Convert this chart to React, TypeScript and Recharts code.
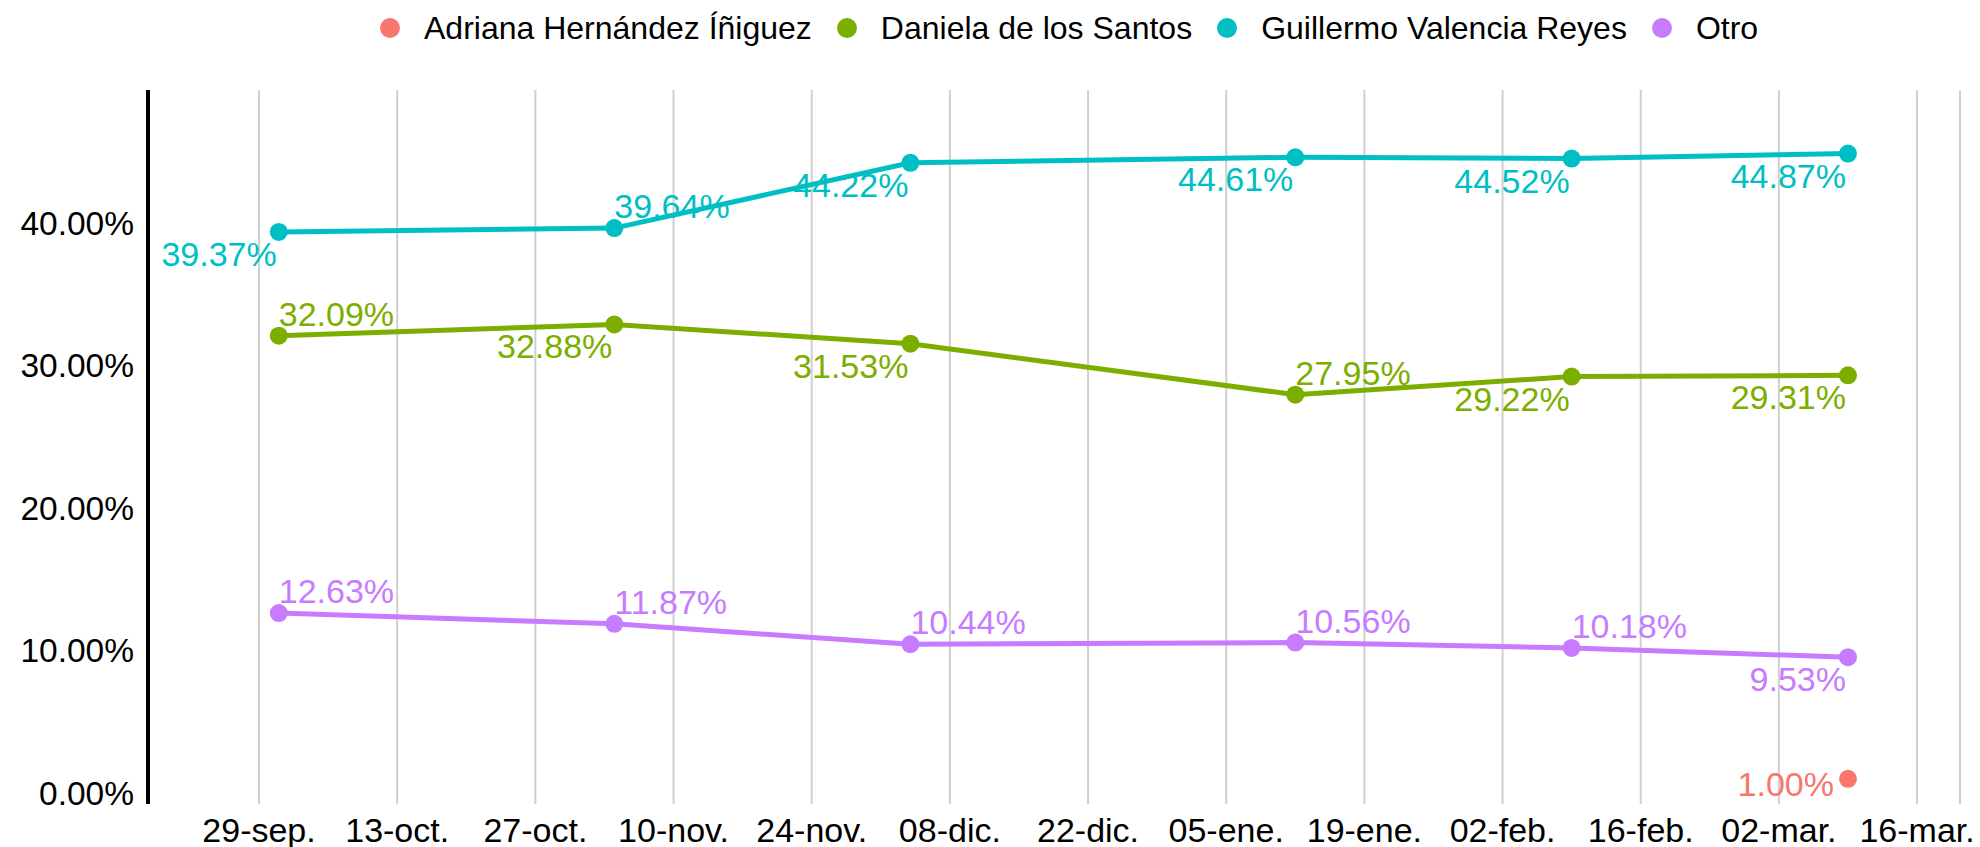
import React from "react"
import { LineChart, Line, XAxis, YAxis, CartesianGrid } from "recharts"

const DAY = 86400000

// survey dates and values (%)
const DATES = ["2024-10-01", "2024-11-04", "2024-12-04", "2025-01-12", "2025-02-09", "2025-03-09"]
const ADRIANA_DATES = ["2025-03-09"]
const ADRIANA = [1.0]
const DANIELA = [32.09, 32.88, 31.53, 27.95, 29.22, 29.31]
const GUILLERMO = [39.37, 39.64, 44.22, 44.61, 44.52, 44.87]
const OTRO = [12.63, 11.87, 10.44, 10.56, 10.18, 9.53]

// x tick dates, every 14 days
const TICK_DATES = [
  "2024-09-29", "2024-10-13", "2024-10-27", "2024-11-10", "2024-11-24", "2024-12-08", "2024-12-22",
  "2025-01-05", "2025-01-19", "2025-02-02", "2025-02-16", "2025-03-02", "2025-03-16",
]
const MONTHS = ["ene.", "feb.", "mar.", "abr.", "may.", "jun.", "jul.", "ago.", "sep.", "oct.", "nov.", "dic."]
const Y_TICKS = [0, 10, 20, 30, 40]

// where each point's label sits: "ar" above-right, "bl" below-left, "l" left
const ADRIANA_SIDES = ["l"]
const DANIELA_SIDES = ["ar", "bl", "bl", "ar", "bl", "bl"]
const GUILLERMO_SIDES = ["bl", "ar", "bl", "bl", "bl", "bl"]
const OTRO_SIDES = ["ar", "ar", "ar", "ar", "ar", "bl"]

const SERIES = [
  { name: "Adriana Hernández Íñiguez", color: "#F8766D", dates: ADRIANA_DATES, values: ADRIANA, sides: ADRIANA_SIDES },
  { name: "Daniela de los Santos", color: "#7CAE00", dates: DATES, values: DANIELA, sides: DANIELA_SIDES },
  { name: "Guillermo Valencia Reyes", color: "#00BFC4", dates: DATES, values: GUILLERMO, sides: GUILLERMO_SIDES },
  { name: "Otro", color: "#C77CFF", dates: DATES, values: OTRO, sides: OTRO_SIDES },
]

const toTime = (s: string) => {
  const [y, m, d] = s.split("-").map(Number)
  return Date.UTC(y, m - 1, d)
}

const fmtTick = (t: number) => {
  const d = new Date(t)
  return `${String(d.getUTCDate()).padStart(2, "0")}-${MONTHS[d.getUTCMonth()]}`
}

const t0 = toTime(TICK_DATES[0])
const X_DOMAIN = [t0 - 11.25 * DAY, t0 + 172.35 * DAY]
const FONT = "'Liberation Sans', Arial, Helvetica, sans-serif"

const makeLabel = (sides: string[], color: string) => (props: any) => {
  const { x, y, value, index } = props
  const side = sides[index] || "ar"
  let tx = x
  let ty = y - 10
  let anchor = "start"
  if (side === "bl") {
    tx = x - 2
    ty = y + 34
    anchor = "end"
  } else if (side === "l") {
    tx = x - 14
    ty = y + 17
    anchor = "end"
  }
  return (
    <text key={`lbl-${index}`} x={tx} y={ty} fill={color} fontSize={34} textAnchor={anchor} fontFamily={FONT}>
      {`${Number(value).toFixed(2)}%`}
    </text>
  )
}

function ChartLegend() {
  return (
    <div
      style={{
        position: "absolute",
        top: 0,
        left: 372,
        height: 40,
        display: "flex",
        alignItems: "center",
        fontSize: 32,
        color: "#000",
        whiteSpace: "nowrap",
      }}
    >
      {SERIES.map((s) => (
        <div key={s.name} style={{ display: "flex", alignItems: "center", marginRight: 25 }}>
          <span style={{ width: 20, height: 20, borderRadius: 10, background: s.color, marginRight: 24 }} />
          <span>{s.name}</span>
        </div>
      ))}
    </div>
  )
}

export default function App() {
  return (
    <div style={{ position: "relative", width: 1972, height: 839, fontFamily: FONT, background: "#fff" }}>
      <LineChart width={1972} height={839} margin={{ top: 82, right: 20, bottom: 0, left: 0 }}>
        <CartesianGrid horizontal={false} stroke="#cfcfcf" strokeWidth={2} />
        <XAxis
          type="number"
          dataKey="t"
          domain={X_DOMAIN}
          ticks={TICK_DATES.map(toTime)}
          tickFormatter={fmtTick}
          interval={0}
          allowDataOverflow
          axisLine={false}
          tickLine={false}
          tickSize={0}
          tickMargin={14}
          height={43}
          tick={{ fill: "#000", fontSize: 34 }}
        />
        <YAxis
          type="number"
          domain={[-0.77, 49.33]}
          ticks={Y_TICKS}
          tickFormatter={(v: number) => `${v.toFixed(2)}%`}
          allowDataOverflow
          width={140}
          axisLine={{ stroke: "#000", strokeWidth: 4 }}
          tickLine={false}
          tickSize={0}
          tickMargin={14}
          tick={{ fill: "#000", fontSize: 33.5 }}
        />
        {SERIES.map((s) => (
          <Line
            key={s.name}
            data={s.dates.map((d, i) => ({ t: toTime(d), v: s.values[i] }))}
            dataKey="v"
            name={s.name}
            stroke={s.color}
            strokeWidth={5}
            dot={{ r: 9, fill: s.color, stroke: "none" }}
            activeDot={false}
            isAnimationActive={false}
            label={makeLabel(s.sides, s.color)}
          />
        ))}
      </LineChart>
      <ChartLegend />
    </div>
  )
}
